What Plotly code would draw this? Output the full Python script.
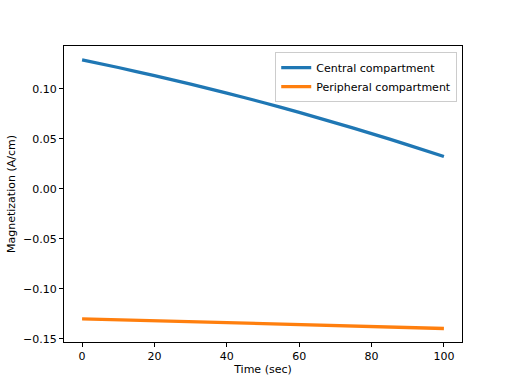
import plotly.graph_objects as go

time_sec = [0, 10, 20, 30, 40, 50, 60, 70, 80, 90, 100]
central = [0.1290, 0.1213, 0.1132, 0.1047, 0.0957, 0.0863, 0.0764, 0.0660, 0.0552, 0.0440, 0.0323]
peripheral = [-0.1300, -0.1309, -0.1318, -0.1328, -0.1337, -0.1347, -0.1357, -0.1366, -0.1376, -0.1386, -0.1397]
y_ticks = [-0.15, -0.10, -0.05, 0.00, 0.05, 0.10]
x_ticks = [0, 20, 40, 60, 80, 100]

fig = go.Figure()
fig.add_trace(go.Scatter(x=time_sec, y=central, mode="lines", name="Central compartment",
                         line=dict(color="#1f77b4", width=3.3, shape="spline", smoothing=0.6)))
fig.add_trace(go.Scatter(x=time_sec, y=peripheral, mode="lines", name="Peripheral compartment",
                         line=dict(color="#ff7f0e", width=3.3)))

axis_common = dict(showline=True, linecolor="black", linewidth=1, mirror=True,
                   ticks="outside", ticklen=4, tickcolor="black", tickwidth=1,
                   showgrid=False, zeroline=False, automargin=False,
                   tickfont=dict(family="DejaVu Sans", size=11, color="black"))

fig.update_layout(
    width=512, height=384, autosize=False,
    margin=dict(l=64, r=50, t=46, b=42, pad=0),
    paper_bgcolor="white", plot_bgcolor="white",
    font=dict(family="DejaVu Sans", size=11, color="black"),
    xaxis=dict(range=[-5, 105], tickvals=x_ticks,
               title=dict(text="Time (sec)", font=dict(size=11), standoff=3),
               **axis_common),
    yaxis=dict(range=[-0.1532, 0.1428], tickvals=y_ticks, tickformat=".2f",
               title=dict(text="Magnetization (A/cm)", font=dict(size=11), standoff=5),
               **axis_common),
    legend=dict(x=0.988, y=0.979, xanchor="right", yanchor="top",
                bgcolor="rgba(255,255,255,0.8)", bordercolor="#cccccc", borderwidth=1,
                font=dict(size=11), tracegroupgap=0),
    showlegend=True,
)

fig.write_html("out.html", config={"displayModeBar": False},
               post_script="document.body.style.margin='0';")
